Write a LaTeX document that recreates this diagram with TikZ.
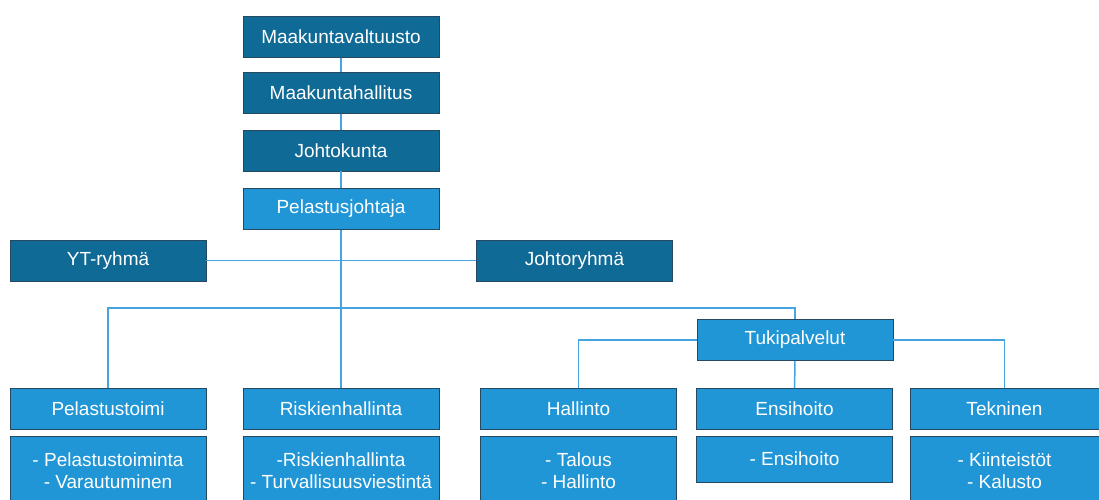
\documentclass[tikz,border=0pt]{standalone}
\usepackage{fontspec}
\setmainfont{Liberation Sans}
\definecolor{darkblue}{RGB}{16,106,150}
\definecolor{lightblue}{RGB}{32,150,214}
\definecolor{edgeblue}{RGB}{38,72,96}
\definecolor{lineblue}{RGB}{70,165,225}

\begin{document}
\begin{tikzpicture}[x=1pt, y=-1pt,
	box/.style={draw=edgeblue, line width=0.8pt, text=white, minimum width=196pt, minimum height=41pt, inner sep=0pt, align=center, font=\fontsize{19}{22}\selectfont},
	dark/.style={box, fill=darkblue},
	light/.style={box, fill=lightblue},
	link/.style={draw=lineblue, line width=1.5pt}]
	\clip (0,0) rectangle (1099,500);
	\node [dark] (valtuusto) at (341,37) {Maakuntavaltuusto};
	\node [dark] (hallitus) at (341,93) {Maakuntahallitus};
	\node [dark] (johtokunta) at (341,150.5) {Johtokunta};
	\node [light] (pjohtaja) at (341,209) {Pelastusjohtaja};
	\node [dark] (yt) at (108,260.5) {YT-ryhmä};
	\node [dark] (johtoryhma) at (574.5,260.5) {Johtoryhmä};
	\node [light] (tuki) at (795,340) {Tukipalvelut};
	\node [light] (ptoimi) at (108,409) {Pelastustoimi};
	\node [light] (riski) at (341,409) {Riskienhallinta};
	\node [light] (hallinto) at (578.5,409) {Hallinto};
	\node [light] (ensihoito) at (794.5,409) {Ensihoito};
	\node [light, minimum width=189pt] (tekninen) at (1004.5,409) {Tekninen};
	\node [light, minimum height=70pt] (ptoimi list) at (108,471) {- Pelastustoiminta\\- Varautuminen};
	\node [light, minimum height=70pt] (riski list) at (341,471) {-Riskienhallinta\\- Turvallisuusviestintä};
	\node [light, minimum height=70pt] (hallinto list) at (578.5,471) {- Talous\\- Hallinto};
	\node [light, minimum height=46pt] (ensihoito list) at (794.5,459) {- Ensihoito};
	\node [light, minimum width=189pt, minimum height=70pt] (tekninen list) at (1004.5,471) {- Kiinteistöt\\- Kalusto};
	\coordinate (bus) at (341,308);
	\draw [link] (valtuusto) -- (hallitus) -- (johtokunta) -- (pjohtaja);
	\draw [link] (pjohtaja) -- (riski);
	\draw [link] (yt) -- (johtoryhma);
	\draw [link] (ptoimi) |- (bus) -| (tuki);
	\draw [link] (tuki) -| (hallinto);
	\draw [link] (tuki) -| (tekninen);
	\draw [link] (tuki) -- (ensihoito);
\end{tikzpicture}
\end{document}
